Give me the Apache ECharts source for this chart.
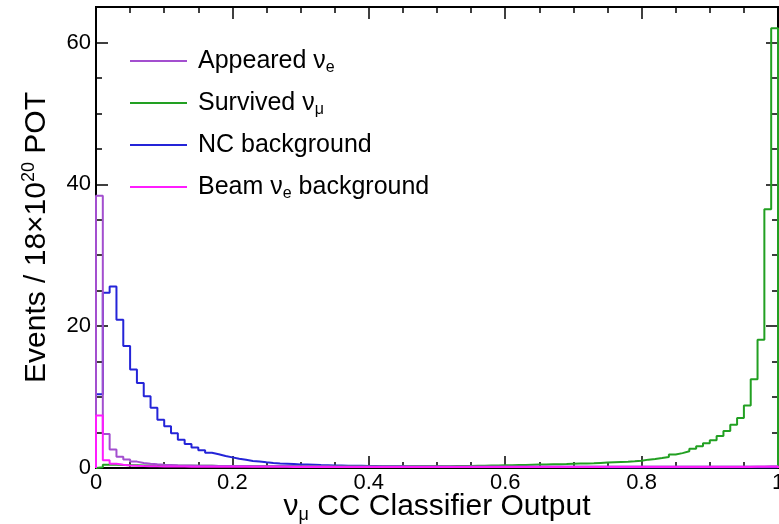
<!DOCTYPE html>
<html>
<head>
<meta charset="utf-8">
<script src="https://cdn.jsdelivr.net/npm/echarts@6/dist/echarts.min.js"></script>
<style>
  html, body { margin: 0; padding: 0; background: #fff; }
  #chart { width: 779px; height: 524px; }
</style>
</head>
<body>
<div id="chart"></div>
<script>
// 100 bins of width 0.01 between 0 and 1
const BIN_WIDTH = 0.01

const seriesNames = ['Appeared νe', 'Survived νμ', 'NC background', 'Beam νe background']

const appearedNuE = [
  38.4, 4.8, 2.6, 1.6, 1.2, 0.9, 0.72, 0.6, 0.52, 0.46,
  0.42, 0.38, 0.36, 0.34, 0.32, 0.31, 0.3, 0.29, 0.28, 0.28,
  0.27, 0.27, 0.26, 0.26, 0.25, 0.25, 0.25, 0.24, 0.24, 0.24,
  0.23, 0.23, 0.23, 0.23, 0.22, 0.22, 0.22, 0.22, 0.22, 0.22,
  0.21, 0.21, 0.21, 0.21, 0.21, 0.21, 0.21, 0.21, 0.21, 0.21,
  0.2, 0.2, 0.2, 0.2, 0.2, 0.2, 0.2, 0.2, 0.2, 0.2,
  0.2, 0.2, 0.2, 0.2, 0.2, 0.2, 0.2, 0.2, 0.2, 0.2,
  0.2, 0.2, 0.2, 0.2, 0.2, 0.2, 0.2, 0.2, 0.2, 0.2,
  0.2, 0.2, 0.2, 0.2, 0.2, 0.2, 0.2, 0.2, 0.2, 0.2,
  0.2, 0.2, 0.2, 0.2, 0.21, 0.21, 0.22, 0.22, 0.23, 0.24
]

const survivedNuMu = [
  0.1, 0.45, 0.45, 0.42, 0.4, 0.38, 0.36, 0.35, 0.34, 0.33,
  0.32, 0.32, 0.31, 0.31, 0.3, 0.3, 0.3, 0.29, 0.28, 0.28,
  0.27, 0.27, 0.26, 0.26, 0.25, 0.25, 0.24, 0.24, 0.24, 0.23,
  0.23, 0.23, 0.22, 0.22, 0.22, 0.22, 0.22, 0.22, 0.22, 0.22,
  0.22, 0.22, 0.22, 0.22, 0.22, 0.23, 0.23, 0.23, 0.24, 0.24,
  0.25, 0.26, 0.27, 0.28, 0.29, 0.31, 0.32, 0.34, 0.36, 0.38,
  0.4, 0.42, 0.44, 0.46, 0.48, 0.5, 0.52, 0.54, 0.56, 0.59,
  0.62, 0.65, 0.68, 0.72, 0.76, 0.8, 0.84, 0.88, 0.94, 1.02,
  1.18, 1.27, 1.4, 1.55, 1.9, 2.1, 2.35, 2.7, 3.06, 3.5,
  3.9, 4.5, 5.2, 6.1, 7.06, 8.8, 12.5, 18.1, 36.5, 62.0
]

const ncBackground = [
  10.4, 24.7, 25.6, 20.9, 17.2, 13.9, 12.0, 10.1, 8.5, 6.8,
  5.9, 4.9, 4.0, 3.4, 2.9, 2.5, 2.15, 1.95, 1.7, 1.5,
  1.3, 1.15, 1.0, 0.9, 0.8, 0.72, 0.65, 0.6, 0.55, 0.5,
  0.48, 0.45, 0.42, 0.4, 0.37, 0.35, 0.33, 0.31, 0.3, 0.28,
  0.27, 0.26, 0.25, 0.24, 0.23, 0.22, 0.22, 0.21, 0.2, 0.2,
  0.19, 0.19, 0.18, 0.18, 0.18, 0.17, 0.17, 0.17, 0.16, 0.16,
  0.16, 0.15, 0.15, 0.15, 0.15, 0.14, 0.14, 0.14, 0.14, 0.13,
  0.13, 0.13, 0.13, 0.13, 0.12, 0.12, 0.12, 0.12, 0.12, 0.12,
  0.11, 0.11, 0.11, 0.11, 0.11, 0.11, 0.11, 0.1, 0.1, 0.1,
  0.1, 0.1, 0.1, 0.1, 0.1, 0.1, 0.1, 0.1, 0.1, 0.1
]

const beamNuE = [
  7.4, 1.1, 0.6, 0.45, 0.36, 0.3, 0.27, 0.25, 0.23, 0.22,
  0.21, 0.2, 0.2, 0.19, 0.19, 0.18, 0.18, 0.18, 0.17, 0.17,
  0.17, 0.17, 0.16, 0.16, 0.16, 0.16, 0.16, 0.16, 0.15, 0.15,
  0.15, 0.15, 0.15, 0.15, 0.15, 0.15, 0.15, 0.15, 0.15, 0.15,
  0.15, 0.15, 0.15, 0.15, 0.15, 0.15, 0.15, 0.15, 0.15, 0.15,
  0.15, 0.15, 0.15, 0.15, 0.15, 0.15, 0.15, 0.15, 0.15, 0.15,
  0.15, 0.15, 0.15, 0.15, 0.15, 0.15, 0.15, 0.15, 0.15, 0.15,
  0.15, 0.15, 0.15, 0.15, 0.15, 0.15, 0.15, 0.15, 0.15, 0.15,
  0.15, 0.15, 0.15, 0.15, 0.15, 0.15, 0.15, 0.15, 0.15, 0.15,
  0.15, 0.15, 0.15, 0.15, 0.15, 0.15, 0.16, 0.16, 0.16, 0.17
]

const xTicks = { min: 0, max: 1, interval: 0.2 }
const yTicks = { min: 0, max: 65, interval: 20, minorInterval: 5 }

const colors = {
  appeared: '#a34fcf',
  survived: '#22a022',
  nc: '#2424d8',
  beam: '#ff1cff'
}

// turn bin contents into step-line points along bin edges
const histPoints = (values) => {
  const pts = [[0, 0]]
  values.forEach((v, i) => pts.push([+(i * BIN_WIDTH).toFixed(2), v]))
  pts.push([1, values[values.length - 1]])
  pts.push([1, 0])
  return pts
}

const histSeries = (name, values, color) => ({
  name,
  type: 'line',
  step: 'end',
  data: histPoints(values),
  showSymbol: false,
  symbol: 'none',
  lineStyle: { color, width: 2 },
  itemStyle: { color },
  emphasis: { disabled: true },
  silent: true
})

const richText = {
  m: { fontFamily: 'Liberation Sans', fontSize: 25, lineHeight: 30, color: '#000' },
  s: { fontFamily: 'Liberation Sans', fontSize: 16, lineHeight: 14, verticalAlign: 'bottom', color: '#000' }
}

const legendLabel = {
  'Appeared νe': '{m|Appeared ν}{s|e}',
  'Survived νμ': '{m|Survived ν}{s|μ}',
  'NC background': '{m|NC background}',
  'Beam νe background': '{m|Beam ν}{s|e}{m| background}'
}

const tickFont = { color: '#000', fontFamily: 'Liberation Sans', fontSize: 22 }
const majorTick = { show: true, inside: true, length: 12, lineStyle: { color: '#000', width: 1.5 } }
const minorTick = { show: true, inside: true, length: 6, lineStyle: { color: '#000', width: 1.5 } }

const tickAxisCommon = {
  axisLine: { show: false, onZero: false },
  splitLine: { show: false },
  axisLabel: { show: false }
}

const option = {
  animation: false,
  backgroundColor: '#fff',
  grid: {
    left: 96,
    right: 1,
    top: 7,
    bottom: 56,
    outerBoundsMode: 'none',
    containLabel: false,
    show: true,
    borderColor: '#000',
    borderWidth: 2,
    backgroundColor: 'transparent'
  },
  legend: {
    data: seriesNames,
    orient: 'vertical',
    left: 130,
    top: 46,
    padding: 0,
    itemWidth: 57,
    itemHeight: 2,
    itemGap: 12,
    icon: 'rect',
    selectedMode: false,
    formatter: (name) => legendLabel[name],
    textStyle: { padding: [0, 0, 0, 6], lineHeight: 30, rich: richText }
  },
  xAxis: [
    {
      type: 'value',
      min: xTicks.min,
      max: xTicks.max,
      interval: xTicks.interval,
      position: 'bottom',
      axisLine: { show: false, onZero: false },
      axisTick: majorTick,
      minorTick: { show: true, splitNumber: 4, length: 6, lineStyle: { color: '#000', width: 1.5 } },
      splitLine: { show: false },
      axisLabel: { ...tickFont, margin: 4 },
      name: '{m|ν}{s|μ}{m| CC Classifier Output}',
      nameLocation: 'middle',
      nameGap: 22,
      nameMoveOverlap: false,
      nameTextStyle: {
        rich: {
          m: { fontFamily: 'Liberation Sans', fontSize: 30, lineHeight: 34, color: '#000' },
          s: { fontFamily: 'Liberation Sans', fontSize: 18, lineHeight: 16, verticalAlign: 'bottom', color: '#000' }
        }
      }
    },
    {
      type: 'value',
      min: xTicks.min,
      max: xTicks.max,
      interval: xTicks.interval,
      position: 'top',
      ...tickAxisCommon,
      axisTick: majorTick,
      minorTick: { show: true, splitNumber: 4, length: 6, lineStyle: { color: '#000', width: 1.5 } }
    }
  ],
  yAxis: [
    {
      type: 'value',
      min: yTicks.min,
      max: yTicks.max,
      interval: yTicks.interval,
      position: 'left',
      axisLine: { show: false, onZero: false },
      axisTick: majorTick,
      splitLine: { show: false },
      axisLabel: {
        ...tickFont,
        margin: 5,
        formatter: (v) => (v % yTicks.interval === 0 ? String(v) : '')
      },
      name: '{m|Events / 18×10}{p|20}{m| POT}',
      nameLocation: 'middle',
      nameGap: 42,
      nameTextStyle: {
        rich: {
          m: { fontFamily: 'Liberation Sans', fontSize: 30, lineHeight: 34, color: '#000' },
          p: { fontFamily: 'Liberation Sans', fontSize: 18, lineHeight: 14, verticalAlign: 'top', color: '#000' }
        }
      }
    },
    {
      type: 'value',
      min: yTicks.min,
      max: yTicks.max,
      interval: yTicks.minorInterval,
      position: 'left',
      ...tickAxisCommon,
      axisTick: minorTick
    },
    {
      type: 'value',
      min: yTicks.min,
      max: yTicks.max,
      interval: yTicks.interval,
      position: 'right',
      ...tickAxisCommon,
      axisTick: majorTick
    },
    {
      type: 'value',
      min: yTicks.min,
      max: yTicks.max,
      interval: yTicks.minorInterval,
      position: 'right',
      ...tickAxisCommon,
      axisTick: minorTick
    }
  ],
  series: [
    histSeries('NC background', ncBackground, colors.nc),
    histSeries('Survived νμ', survivedNuMu, colors.survived),
    histSeries('Appeared νe', appearedNuE, colors.appeared),
    histSeries('Beam νe background', beamNuE, colors.beam)
  ]
}

const chart = echarts.init(document.getElementById('chart'))
chart.setOption(option)
</script>
</body>
</html>
